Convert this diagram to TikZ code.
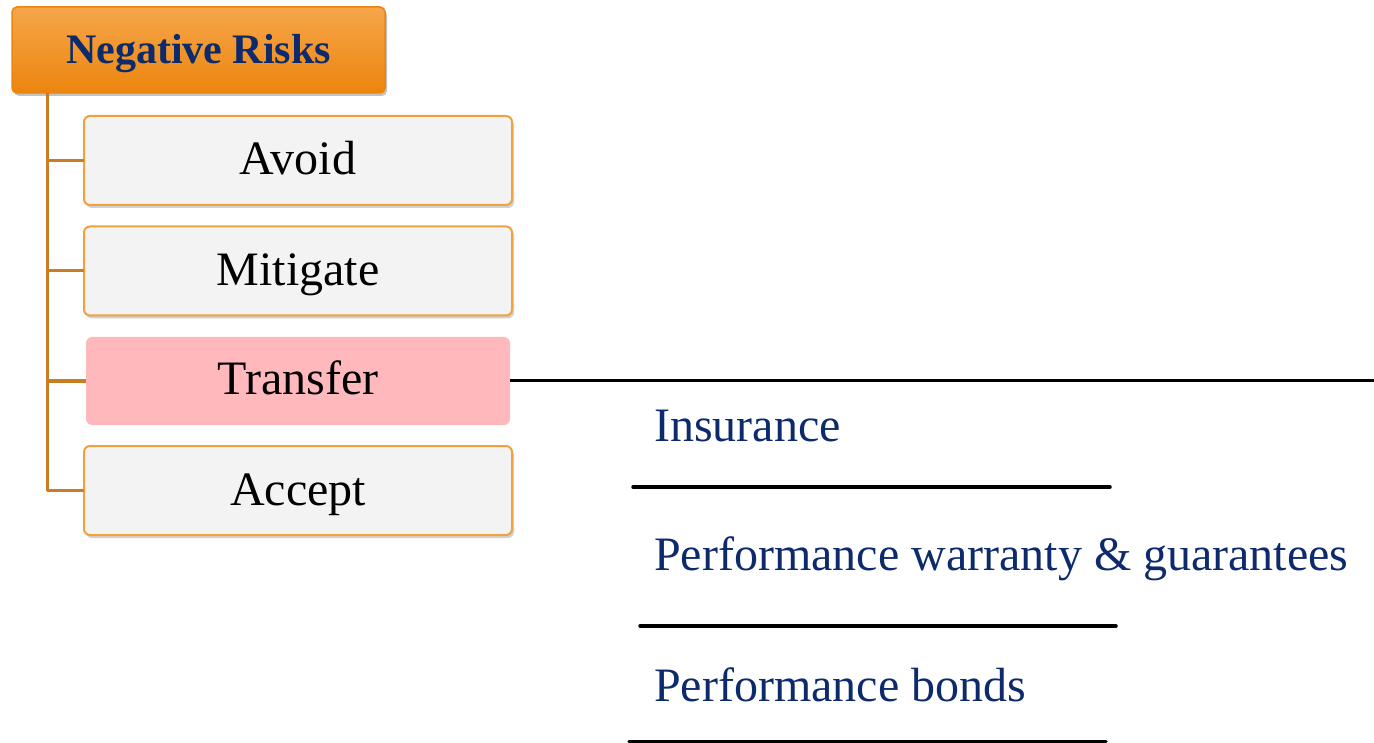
\documentclass[tikz,border=0pt]{standalone}
\usepackage{fontspec}
\setmainfont{Liberation Serif}
\usetikzlibrary{shadows}
\definecolor{navy}{HTML}{0D2A6C}
\definecolor{boxborder}{HTML}{F2A23C}
\definecolor{boxfill}{HTML}{F3F3F3}
\definecolor{trunkcol}{HTML}{C97C22}
\definecolor{pinkfill}{HTML}{FFB9BD}
\definecolor{hdrtop}{HTML}{F6A64A}
\definecolor{hdrbot}{HTML}{EC850E}
\begin{document}
\begin{tikzpicture}[x=1pt,y=-1pt,
  hdrbox/.style={rounded corners=5pt, draw=hdrbot, line width=1.5pt, top color=hdrtop, bottom color=hdrbot,
    minimum width=373pt, minimum height=86pt, inner sep=0pt, outer sep=0pt,
    text height=30pt, text depth=2pt,
    drop shadow={shadow xshift=2pt, shadow yshift=-3pt, opacity=0.4, fill=black!60},
    font=\fontsize{42}{46}\selectfont\bfseries, text=navy},
  itembox/.style={rounded corners=6pt, draw=boxborder, line width=2pt, fill=boxfill,
    minimum width=428pt, minimum height=89pt, inner sep=0pt, outer sep=0pt,
    text height=33pt, text depth=4pt,
    drop shadow={shadow xshift=2pt, shadow yshift=-3pt, opacity=0.3, fill=black!60},
    font=\fontsize{48}{52}\selectfont, text=black},
  pinkbox/.style={rounded corners=6pt, fill=pinkfill,
    minimum width=424pt, minimum height=88pt, inner sep=0pt, outer sep=0pt,
    text height=33pt, text depth=5pt,
    font=\fontsize{48}{52}\selectfont, text=black},
  trunk/.style={draw=trunkcol, line width=3pt},
  blackline/.style={draw=black, line width=3.5pt, line cap=round},
  subtext/.style={anchor=base west, inner sep=0pt, font=\fontsize{48}{52}\selectfont, text=navy}
]
\useasboundingbox (0,0) rectangle (1374,743);

\node[hdrbox] (hdr) at (198.5,50) {Negative Risks};
\node[itembox] (avoid) at (298,160.5) {Avoid};
\node[itembox] (mitigate) at (298,271) {Mitigate};
\node[pinkbox] (transfer) at (298,381) {Transfer};
\node[itembox] (accept) at (298,490.5) {Accept};

\coordinate (tx) at (47,0);
\draw[trunk] (hdr.south -| tx) -- (accept.west -| tx);
\foreach \n in {avoid,mitigate,transfer,accept}
  \draw[trunk] (\n.west -| tx) -- (\n.west);

\coordinate (tend) at (1376,380.5);
\draw[draw=black, line width=3.5pt] (transfer.east |- tend) -- (tend);

\node[subtext] (ins) at (654,441) {Insurance};
\node[subtext] (perf) at (654,570) {Performance warranty \& guarantees};
\node[subtext] (bonds) at (654,701.5) {Performance bonds};

\draw[blackline] (633,487) -- (1110,487);
\draw[blackline] (640,626) -- (1116,626);
\draw[blackline] (629,741.5) -- (1106,741.5);
\end{tikzpicture}
\end{document}
